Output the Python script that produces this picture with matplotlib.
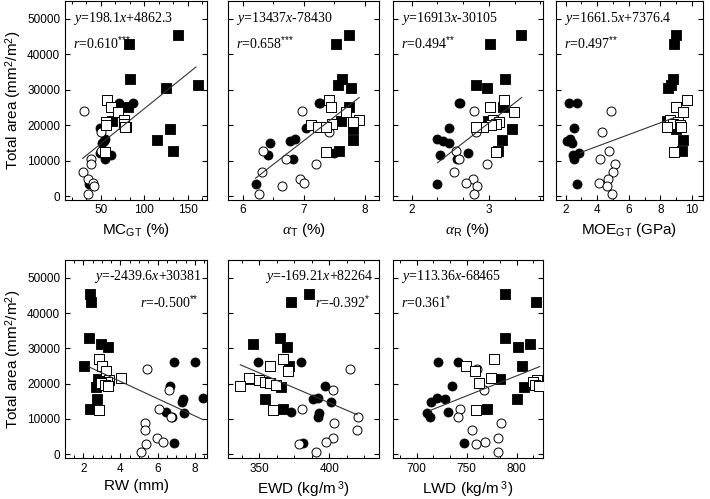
import matplotlib
matplotlib.use('Agg')
import matplotlib.pyplot as plt
from matplotlib.ticker import AutoMinorLocator
import numpy as np

plt.rcParams['font.family'] = ['Liberation Sans', 'DejaVu Sans']
plt.rcParams['mathtext.fontset'] = 'custom'
plt.rcParams['mathtext.rm'] = 'Liberation Sans'
plt.rcParams['mathtext.it'] = 'Liberation Serif:italic'
plt.rcParams['mathtext.bf'] = 'Liberation Sans:bold'

# total area (mm2/m2) of each tree, by group
ta_fs = [45400, 43000, 33000, 31200, 30500, 25000, 21200, 19000, 15700, 12800]
ta_os = [27000, 25000, 23700, 21600, 21000, 20400, 20100, 19600, 19400, 12500]
ta_fc = [26200, 26200, 19300, 16000, 15600, 14900, 12100, 11600, 10500, 3300]
ta_oc = [24100, 18200, 12700, 10500, 9000, 6900, 4700, 3600, 2800, 600]

# MC_GT (%)
mc_fs = [139, 82, 83.5, 162, 124.5, 81.5, 63, 130, 115, 132.5]
mc_os = [57.4, 61.3, 70, 76.6, 55.9, 77, 55.6, 78.9, 77.5, 55.1]
mc_fc = [71.2, 86.6, 49, 54.7, 54, 51, 49, 61.6, 54.7, 36.7]
mc_oc = [31, 50.1, 50.1, 38.3, 38.3, 29.1, 34.8, 40.6, 41.7, 34.8]

# alpha_T (%)
at_fs = [7.74, 7.53, 7.62, 7.56, 7.77, 7.74, 7.61, 7.81, 7.81, 7.57]
at_os = [7.41, 7.45, 7.69, 7.91, 7.81, 7.46, 7.12, 7.23, 7.37, 7.37]
at_fc = [7.27, 7.25, 7.04, 6.85, 6.77, 6.45, 7.49, 6.42, 6.82, 6.21]
at_oc = [6.97, 7.41, 6.34, 6.71, 7.20, 6.31, 6.93, 7.00, 6.64, 6.27]

# alpha_R (%)
ar_fs = [3.42, 3.02, 3.21, 2.83, 2.97, 3.18, 2.99, 3.30, 3.17, 3.12]
ar_os = [3.19, 3.01, 3.32, 3.05, 3.13, 3.09, 3.03, 2.92, 2.83, 3.09]
ar_fc = [2.63, 2.62, 2.49, 2.33, 2.41, 2.49, 2.73, 2.37, 2.59, 2.33]
ar_oc = [2.81, 2.83, 2.58, 2.62, 2.97, 2.55, 2.79, 2.70, 2.85, 2.81]

# MOE_GT (GPa)
moe_fs = [8.97, 8.86, 8.78, 8.66, 8.47, 9.0, 8.4, 8.97, 9.45, 9.35]
moe_os = [9.66, 8.97, 9.45, 8.61, 9.14, 8.78, 9.25, 9.3, 8.40, 8.86]
moe_fc = [2.24, 2.70, 2.53, 2.28, 2.07, 2.38, 2.87, 2.49, 2.55, 2.70]
moe_oc = [4.88, 4.28, 4.77, 4.18, 5.13, 5.02, 4.66, 4.11, 4.64, 4.92]

# RW (mm)
rw_fs = [2.36, 2.41, 2.32, 2.93, 3.34, 2.04, 2.81, 2.66, 2.73, 2.39]
rw_os = [2.84, 3.02, 3.22, 4.01, 3.40, 3.30, 2.95, 3.15, 3.34, 2.86]
rw_fc = [6.87, 8.02, 6.66, 8.42, 7.38, 7.30, 6.44, 7.39, 6.78, 6.87]
rw_oc = [5.41, 6.62, 6.05, 6.71, 5.33, 5.33, 5.99, 6.30, 5.35, 5.10]

# EWD (kg/m3)
ewd_fs = [385.7, 372.6, 365.0, 345.5, 369.8, 371.0, 342.4, 365.7, 354.3, 366.7]
ewd_os = [366.7, 357.4, 370.5, 342.9, 349.5, 353.8, 357.9, 361.9, 336.4, 359.8]
ewd_fc = [348.8, 380.0, 396.7, 391.9, 388.1, 401.0, 372.9, 392.4, 391.9, 381.2]
ewd_oc = [414.5, 402.6, 380.5, 420.5, 403.6, 419.8, 402.4, 397.9, 378.6, 390.5]

# LWD (kg/m3)
lwd_fs = [788.7, 819.7, 788.7, 813.0, 801.3, 805.7, 783.3, 807.3, 800.7, 770.0]
lwd_os = [777.3, 749.7, 758.0, 774.0, 820.0, 816.0, 762.0, 818.0, 822.0, 759.7]
lwd_fc = [721.3, 741.3, 735.7, 720.3, 728.7, 714.0, 731.3, 710.7, 713.0, 747.3]
lwd_oc = [760.7, 767.3, 743.0, 741.3, 784.0, 755.3, 781.3, 768.0, 759.0, 781.3]

xlabels = [r'MC$_{\mathrm{GT}}$ (%)', r'$\alpha_{\mathrm{T}}$ (%)', r'$\alpha_{\mathrm{R}}$ (%)',
           r'MOE$_{\mathrm{GT}}$ (GPa)', 'RW (mm)', r'EWD (kg/m$^{\ 3}$)', r'LWD (kg/m$^{\ 3}$)']
slopes = [198.1, 13437, 16913, 1661.5, -2439.6, -169.21, 113.36]
intercepts = [4862.3, -78430, -30105, 7376.4, 30381, 82264, -68465]
r_vals = ['0.610', '0.658', '0.494', '0.497', '-0.500', '-0.392', '0.361']
stars = ['***', '***', '**', '**', '**', '*', '*']
# x extent of each fitted line
line_x0 = [29.1, 6.21, 2.335, 2.91, 2.32, 336.4, 713.0]
line_x1 = [159.3, 7.905, 3.423, 8.90, 8.45, 419.8, 823.0]

xdata = [(mc_fs, mc_os, mc_fc, mc_oc), (at_fs, at_os, at_fc, at_oc), (ar_fs, ar_os, ar_fc, ar_oc),
         (moe_fs, moe_os, moe_fc, moe_oc), (rw_fs, rw_os, rw_fc, rw_oc),
         (ewd_fs, ewd_os, ewd_fc, ewd_oc), (lwd_fs, lwd_os, lwd_fc, lwd_oc)]
xlims = [(8.8, 172), (5.76, 8.23), (1.76, 3.70), (1.39, 10.70), (1.02, 8.65), (327.6, 435.5), (676.3, 826.3)]
xticks = [[50, 100, 150], [6, 7, 8], [2, 3], [2, 4, 6, 8, 10], [2, 4, 6, 8], [350, 400], [700, 750, 800]]
minors = [3, 2, 3, 2, 4, 4, 3]

fig = plt.figure(figsize=(7.1, 4.99), dpi=100)
cols = [(65, 207), (228, 379), (393, 543), (556, 703)]
rows = [(0.6001, 0.3975), (0.0825, 0.3964)]

for i in range(7):
    r, c = divmod(i, 4)
    x0, x1 = cols[c]
    ax = fig.add_axes([x0 / 710, rows[r][0], (x1 - x0) / 710, rows[r][1]])
    fs, os_, fc, oc = xdata[i]
    ax.scatter(fs, ta_fs, marker='s', s=42, c='black', edgecolors='black', linewidths=0.6, zorder=3)
    ax.scatter(fc, ta_fc, marker='o', s=42, c='black', edgecolors='black', linewidths=0.6, zorder=3)
    ax.scatter(oc, ta_oc, marker='o', s=42, c='white', edgecolors='black', linewidths=0.7, zorder=3)
    ax.scatter(os_, ta_os, marker='s', s=42, c='white', edgecolors='black', linewidths=0.7, zorder=3)

    xl = np.array([line_x0[i], line_x1[i]])
    ax.plot(xl, slopes[i] * xl + intercepts[i], color='#333333', lw=0.8, zorder=4)

    sign = '+' if intercepts[i] >= 0 else '-'
    eq = f'$y$={slopes[i]:g}$x${sign}{abs(intercepts[i]):g}'
    st = ''.join('{' + s + '}' for s in stars[i])
    rt = f'$r$={r_vals[i]}' + r'$^{' + st + '}$'
    if i in (4, 5):
        ax.text(0.965, 0.915, eq, transform=ax.transAxes, ha='right', va='center',
                family='Liberation Serif', fontsize=10)
        ax.text(0.94, 0.79, rt, transform=ax.transAxes, ha='right', va='center',
                family='Liberation Serif', fontsize=10)
    else:
        ax.text(0.055, 0.915, eq, transform=ax.transAxes, ha='left', va='center',
                family='Liberation Serif', fontsize=10)
        ax.text(0.055, 0.79, rt, transform=ax.transAxes, ha='left', va='center',
                family='Liberation Serif', fontsize=10)

    ax.set_xlim(xlims[i])
    ax.set_ylim(-1000, 55000)
    ax.set_xticks(xticks[i])
    ax.xaxis.set_minor_locator(AutoMinorLocator(minors[i]))
    ax.set_yticks(np.arange(0, 50001, 10000))
    ax.tick_params(direction='in', top=True, right=True, which='both', labelsize=8.5)
    ax.tick_params(which='major', length=3.5, width=0.8)
    ax.tick_params(which='minor', length=2, width=0.7)
    for sp in ax.spines.values():
        sp.set_linewidth(0.8)
    ax.set_xlabel(xlabels[i], fontsize=11, labelpad=3)
    if c == 0:
        ax.set_ylabel(r'Total area (mm$^2$/m$^2$)', fontsize=11, labelpad=2)
    else:
        ax.tick_params(labelleft=False)

fig.savefig('out.png', dpi=100)
